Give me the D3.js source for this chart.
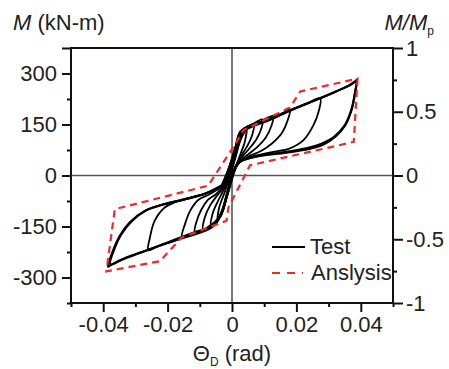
<!DOCTYPE html>
<html lang="en">
<head>
<meta charset="UTF-8">
<title>Moment - rotation</title>
<script src="https://d3js.org/d3.v7.min.js"></script>
<style>
    body { margin: 0; background: #fff; }
    svg { display: block; }
    text { font-family: Arial, "Liberation Sans", sans-serif; fill: #222; }
</style>
</head>
<body>
<svg width="449" height="369"></svg>
<script>
// tick labels
const xTicks = [-0.04, -0.02, 0, 0.02, 0.04];
const xMinor = [-0.05, -0.03, -0.01, 0.01, 0.03, 0.05];
const yTicks = [-300, -150, 0, 150, 300, 375];
const yMinor = [-375, -225, -75, 75, 225];
const ratioTicks = [-1, -0.5, 0, 0.5, 1];
const ratioMinor = [-0.75, -0.25, 0.25, 0.75];

// test loops [theta, M], one per amplitude
const loop040 = [[-0.0032,-30],[-0.001,20],[0.001,80],[0.0025,128],[0.005,145],[0.010,160],[0.017,188],[0.022,207],[0.0274,227],[0.033,250],[0.0377,272],[0.0388,282],
    [0.0383,247],[0.0373,198],[0.0352,148],[0.0321,114],[0.0284,91],[0.0243,79],[0.017,67],[0.0066,54],[0.002,38],[0.0003,10],[-0.0015,-50],[-0.0035,-115],
    [-0.0063,-153],[-0.0167,-188],[-0.0271,-222],[-0.033,-242],[-0.0375,-262],[-0.0385,-268],
    [-0.037,-222],[-0.0349,-178],[-0.0318,-138],[-0.0271,-104],[-0.0219,-87],[-0.0167,-74],[-0.0084,-54],[-0.0032,-30]];
const loop040b = [[-0.003,-28],[-0.0008,25],[0.0012,85],[0.003,132],[0.006,148],[0.011,163],[0.016,183],[0.021,203],[0.026,222],[0.031,242],[0.036,263],[0.0385,276],
    [0.0381,240],[0.0370,192],[0.0348,145],[0.0315,112],[0.028,94],[0.024,82],[0.018,71],[0.008,57],[0.0025,40],[0.0005,12],[-0.0013,-45],[-0.0033,-112],
    [-0.006,-150],[-0.012,-168],[-0.02,-197],[-0.028,-226],[-0.034,-247],[-0.0378,-262],
    [-0.0366,-218],[-0.0345,-175],[-0.0312,-135],[-0.0265,-102],[-0.021,-84],[-0.015,-71],[-0.008,-52],[-0.003,-28]];
const loop030 = [[-0.003,-30],[-0.001,20],[0.001,80],[0.0025,125],[0.006,146],[0.012,165],[0.018,190],[0.023,210],[0.0274,227],
    [0.0269,188],[0.0253,148],[0.0222,104],[0.018,80],[0.012,68],[0.006,55],[0.002,36],[0.0003,5],[-0.0015,-55],[-0.0035,-118],
    [-0.0065,-152],[-0.012,-170],[-0.018,-192],[-0.023,-208],[-0.026,-220],
    [-0.0255,-183],[-0.024,-133],[-0.0209,-94],[-0.018,-80],[-0.013,-66],[-0.008,-52],[-0.003,-30]];
const loop020 = [[-0.003,-32],[-0.001,15],[0.001,75],[0.0025,122],[0.006,143],[0.011,160],[0.015,178],[0.018,195],
    [0.0172,160],[0.0155,125],[0.0125,95],[0.009,72],[0.005,55],[0.002,35],[0.0003,0],[-0.0015,-60],[-0.0035,-120],
    [-0.0065,-150],[-0.011,-165],[-0.0155,-182],
    [-0.0146,-143],[-0.013,-104],[-0.0105,-72],[-0.007,-55],[-0.003,-32]];
const loop015 = [[-0.0025,-30],[-0.0005,20],[0.0012,80],[0.003,125],[0.007,148],[0.0128,175],
    [0.0122,145],[0.0105,112],[0.008,85],[0.005,62],[0.002,40],[0.0003,5],[-0.0015,-58],[-0.0035,-118],
    [-0.0065,-148],[-0.0115,-168],
    [-0.011,-135],[-0.0095,-100],[-0.0075,-72],[-0.005,-55],[-0.0025,-30]];
const loop010 = [[-0.0025,-35],[-0.0005,15],[0.0012,78],[0.003,122],[0.006,148],[0.0095,165],
    [0.009,135],[0.0075,105],[0.005,75],[0.0025,48],[0.0005,10],[-0.0015,-55],[-0.0035,-115],[-0.0065,-145],[-0.009,-158],
    [-0.0085,-125],[-0.0068,-88],[-0.0045,-58],[-0.0025,-35]];
const loop0075 = [[-0.001,-10],[0.001,55],[0.003,115],[0.005,140],[0.0068,152],
    [0.0063,120],[0.0048,88],[0.003,60],[0.001,25],[-0.001,-40],[-0.003,-100],[-0.005,-135],[-0.0065,-148],
    [-0.006,-112],[-0.0045,-78],[-0.003,-50],[-0.001,-10]];
const loop005 = [[-0.001,-15],[0.001,50],[0.0025,100],[0.0045,140],
    [0.004,100],[0.0025,60],[0.001,20],[-0.001,-45],[-0.003,-105],[-0.0045,-135],
    [-0.004,-95],[-0.0025,-55],[-0.001,-15]];
const testLoops = [loop040, loop040b, loop030, loop020, loop015, loop010, loop0075, loop005];

// analysis envelope
const analysis = [[0.0012,95],[0.0035,133],[0.018,200],[0.0212,247],[0.039,285],[0.0378,99],[0.030,82],[0.0056,30],
    [-0.0011,-94],[-0.0017,-133],[-0.0157,-183],[-0.0224,-252],[-0.039,-282],[-0.0364,-99],[-0.0074,-30],[0.0012,95]];

const svg = d3.select("svg");
const plotL = 71, plotR = 393, plotT = 48, plotB = 303;
const fontSize = 22;

const x = d3.scaleLinear().domain([-0.05, 0.05]).range([plotL, plotR]);
const y = d3.scaleLinear().domain([-375, 375]).range([plotB, plotT]);
const yR = d3.scaleLinear().domain([-1, 1]).range([plotB, plotT]);

// zero lines
svg.append("line").attr("x1", plotL).attr("x2", plotR).attr("y1", y(0)).attr("y2", y(0))
    .attr("stroke", "#555").attr("stroke-width", 1.6);
svg.append("line").attr("x1", x(0)).attr("x2", x(0)).attr("y1", plotT).attr("y2", plotB)
    .attr("stroke", "#555").attr("stroke-width", 1.6);

const line = d3.line()
    .x(d => x(d[0]))
    .y(d => y(d[1]))
    .curve(d3.curveCatmullRom.alpha(0.5));

// test curves
svg.append("g")
    .selectAll("path")
    .data(testLoops)
    .join("path")
    .attr("d", line)
    .attr("fill", "none")
    .attr("stroke", "#000")
    .attr("stroke-width", (d, i) => i < 2 ? 2.1 : 1.8)
    .attr("stroke-linejoin", "round");

// analysis
svg.append("path")
    .attr("d", d3.line().x(d => x(d[0])).y(d => y(d[1]))(analysis))
    .attr("fill", "none")
    .attr("stroke", "#ee2a2a")
    .attr("stroke-width", 2.2)
    .attr("stroke-dasharray", "7,5");

// frame
svg.append("rect").attr("x", plotL).attr("y", plotT).attr("width", plotR - plotL).attr("height", plotB - plotT)
    .attr("fill", "none").attr("stroke", "#111").attr("stroke-width", 2);

function styleAxis(g) {
    g.select(".domain").remove();
    g.selectAll("line").attr("stroke", "#111").attr("stroke-width", 2);
    g.selectAll("text").attr("font-size", fontSize).attr("fill", "#222")
        .attr("font-family", "Arial, 'Liberation Sans', sans-serif");
}

const fmt = d => String(d);

svg.append("g").attr("transform", `translate(${plotL},0)`)
    .call(d3.axisLeft(y).tickValues(yTicks).tickSize(9).tickPadding(5).tickFormat(d => d === 375 ? "" : fmt(d)))
    .call(styleAxis);
svg.append("g").attr("transform", `translate(${plotL},0)`)
    .call(d3.axisLeft(y).tickValues(yMinor).tickSize(4).tickFormat(""))
    .call(styleAxis);

svg.append("g").attr("transform", `translate(${plotR},0)`)
    .call(d3.axisRight(yR).tickValues(ratioTicks).tickSize(10).tickPadding(3).tickFormat(fmt))
    .call(styleAxis);
svg.append("g").attr("transform", `translate(${plotR},0)`)
    .call(d3.axisRight(yR).tickValues(ratioMinor).tickSize(4).tickFormat(""))
    .call(styleAxis);

svg.append("g").attr("transform", `translate(0,${plotB})`)
    .call(d3.axisBottom(x).tickValues(xTicks).tickSize(9).tickPadding(4).tickFormat(fmt))
    .call(styleAxis);
svg.append("g").attr("transform", `translate(0,${plotB})`)
    .call(d3.axisBottom(x).tickValues(xMinor).tickSize(4).tickFormat(""))
    .call(styleAxis);

// axis titles
const leftTitle = svg.append("text").attr("x", 13).attr("y", 30).attr("font-size", fontSize);
leftTitle.append("tspan").attr("font-style", "italic").text("M");
leftTitle.append("tspan").text(" (kN-m)");

const rightTitle = svg.append("text").attr("x", 434).attr("y", 30).attr("font-size", fontSize).attr("text-anchor", "end");
rightTitle.append("tspan").attr("font-style", "italic").text("M/M");
rightTitle.append("tspan").attr("font-size", 12).attr("dy", 5).text("p");

const xTitle = svg.append("text").attr("x", 232).attr("y", 361).attr("font-size", fontSize).attr("text-anchor", "middle");
xTitle.append("tspan").text("Θ");
xTitle.append("tspan").attr("font-size", 12).attr("dy", 5).text("D");
xTitle.append("tspan").attr("dy", -5).text(" (rad)");

// legend
const legend = svg.append("g");
legend.append("line").attr("x1", 272).attr("x2", 305).attr("y1", 247).attr("y2", 247)
    .attr("stroke", "#000").attr("stroke-width", 1.8);
legend.append("text").attr("x", 310).attr("y", 254).attr("font-size", fontSize).text("Test");
legend.append("line").attr("x1", 272).attr("x2", 303).attr("y1", 273).attr("y2", 273)
    .attr("stroke", "#ee2a2a").attr("stroke-width", 2.2).attr("stroke-dasharray", "8,7");
legend.append("text").attr("x", 311).attr("y", 280).attr("font-size", fontSize).text("Anslysis");
</script>
</body>
</html>
